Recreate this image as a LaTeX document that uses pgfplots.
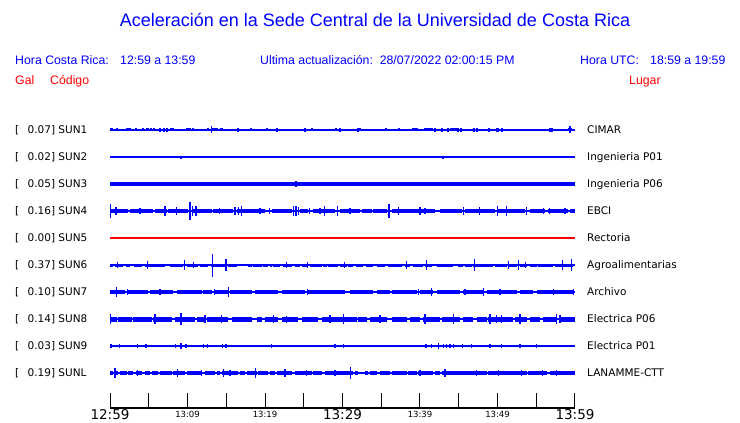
\documentclass[border=0pt]{standalone}
\usepackage{pgfplots}
\pgfplotsset{compat=1.18}
\usepackage{fontspec}
\setmainfont{Liberation Sans}
\newfontfamily\dv{DejaVu Sans}
\definecolor{tblue}{RGB}{0,0,255}
\definecolor{tred}{RGB}{255,0,0}
\pgfplotsset{
  band/.style={draw=none, forget plot,
    error bars/x dir=both, error bars/x explicit, error bars/error mark=none,
    error bars/error bar style={draw=tblue, line width=#1, line cap=butt}},
  spk/.style={draw=none, forget plot,
    error bars/y dir=both, error bars/y explicit, error bars/error mark=none,
    error bars/error bar style={draw=tblue, line width=1.1pt, line cap=butt}},
  base/.style={tblue, line width=#1, forget plot, line cap=butt},
}
\newcommand{\bigtl}[1]{{\fontsize{13.5}{15}\selectfont #1}}
\newcommand{\smtl}[1]{\raisebox{2.2pt}{\fontsize{8.5}{10}\selectfont #1}}
\begin{document}
\begin{tikzpicture}
\useasboundingbox (0,0) rectangle (740pt,423pt);
\begin{axis}[at={(0pt,0pt)}, anchor=south west, scale only axis,
  width=740pt, height=423pt, xmin=-14.1935, xmax=81.2903,
  ymin=0, ymax=423, y dir=reverse, hide axis, clip=false]
% ---------- time axis line ----------
\addplot[black, line width=1.3pt, forget plot] coordinates {(0,408) (60,408)};
% ---------- SUN1 ----------
\addplot[base=1.3pt] coordinates {(0,130) (60,130)};
\addplot[band=3pt] coordinates {
 (0.19,130)+-(0.19,0) (0.84,130)+-(0.07,0) (2.39,130)+-(0.32,0) (3.35,130)+-(0.1,0)
 (4.26,130)+-(0.1,0) (4.84,130)+-(0.19,0) (5.29,130)+-(0.13,0) (5.68,130)+-(0.13,0)
 (8.0,130)+-(0.26,0) (10.13,130)+-(0.32,0) (10.71,130)+-(0.13,0) (12.65,130)+-(0.13,0)
 (13.48,130)+-(0.45,0) (14.39,130)+-(0.2,0) (35.61,130)+-(0.13,0) (37.29,130)+-(0.13,0)
 (39.35,130)+-(0.39,0) (41.1,130)+-(0.58,0) (44.32,130)+-(0.45,0) (59.35,130)+-(0.26,0)};
\addplot[spk] coordinates {
 (6.45,130)+-(0,2) (6.97,130)+-(0,2) (7.35,130)+-(0,2) (13.1,130)+-(0,3.5)
 (16.52,130)+-(0,2) (18.19,130)+-(0,1.5) (20.26,130)+-(0,1.5) (21.55,130)+-(0,2)
 (25.16,130)+-(0,2) (26.06,130)+-(0,1.5) (29.16,130)+-(0,1.5) (29.68,130)+-(0,2)
 (32.0,130)+-(0,2) (32.26,130)+-(0,1.5) (41.94,130)+-(0,2) (42.84,130)+-(0,2)
 (43.61,130)+-(0,2) (44.9,130)+-(0,2) (45.29,130)+-(0,2) (46.97,130)+-(0,2)
 (47.35,130)+-(0,2) (48.9,130)+-(0,2) (49.94,130)+-(0,2) (50.06,130)+-(0,2)
 (50.58,130)+-(0,2) (56.77,130)+-(0,2) (57.03,130)+-(0,2) (59.35,130)+-(0,3.5)};
% ---------- SUN2 ----------
\addplot[base=1.3pt] coordinates {(0,157) (60,157)};
\addplot[spk] coordinates {(9.16,157.8)+-(0,1.3) (40.9,157)+-(0,1) (42.97,157.5)+-(0,1.5)};
% ---------- SUN3 ----------
\addplot[base=4.5pt] coordinates {(0,184) (60,184)};
\addplot[spk] coordinates {(24.0,184)+-(0,2.8)};
% ---------- SUN4 ----------
\addplot[base=1.3pt] coordinates {(0,211) (60,211)};
\addplot[band=4pt] coordinates {
 (1.18,211)+-(1.18,0) (4.09,211)+-(1.51,0) (6.56,211)+-(0.75,0) (8.82,211)+-(1.29,0)
 (11.94,211)+-(1.18,0) (14.62,211)+-(1.29,0) (18.17,211)+-(1.83,0) (22.15,211)+-(1.29,0)
 (25.05,211)+-(0.54,0) (27.63,211)+-(1.40,0) (30.97,211)+-(1.29,0) (33.12,211)+-(0.65,0)
 (34.84,211)+-(0.86,0) (39.14,211)+-(2.80,0) (43.98,211)+-(1.40,0) (47.74,211)+-(1.94,0)
 (51.83,211)+-(1.72,0) (55.16,211)+-(0.97,0) (57.85,211)+-(1.29,0) (59.68,211)+-(0.32,0)};
\addplot[spk] coordinates {
 (0.05,211)+-(0,7) (0.77,211)+-(0,4) (3.87,211)+-(0,3) (7.10,211)+-(0,5) (8.60,211)+-(0,4)
 (10.32,211)+-(0,9) (10.62,211)+-(0,5) (11.10,211)+-(0,5) (14.11,211)+-(0,3) (16.13,211)+-(0,4)
 (16.56,211)+-(0,4) (16.99,211)+-(0,5) (19.35,211)+-(0,3) (20.56,211)+-(0,3) (23.66,211)+-(0,5)
 (24.0,211)+-(0,5) (24.30,211)+-(0,4) (25.72,211)+-(0,3) (27.10,211)+-(0,3) (27.66,211)+-(0,5)
 (29.38,211)+-(0,5) (30.97,211)+-(0,3) (36.0,211)+-(0,7) (37.20,211)+-(0,4) (40.0,211)+-(0,4)
 (40.65,211)+-(0,3) (45.59,211)+-(0,4) (47.66,211)+-(0,4) (49.98,211)+-(0,5) (51.18,211)+-(0,5)
 (53.77,211)+-(0,4) (55.91,211)+-(0,3) (56.69,211)+-(0,3) (58.71,211)+-(0,3)};
% ---------- SUN5 ----------
\addplot[tred, line width=1.1pt, forget plot] coordinates {(0,238) (60,238)};
% ---------- SUN6 ----------
\addplot[base=1.3pt] coordinates {(0,265) (60,265)};
\addplot[band=3pt] coordinates {
 (0.21,265)+-(0.21,0) (1.18,265)+-(0.54,0) (2.30,265)+-(0.28,0) (3.65,265)+-(0.52,0)
 (5.81,265)+-(1.29,0) (8.62,265)+-(0.84,0) (10.22,265)+-(0.32,0) (11.01,265)+-(0.39,0)
 (12.15,265)+-(0.54,0) (13.94,265)+-(0.90,0) (15.81,265)+-(0.54,0) (18.06,265)+-(0.22,0)
 (19.03,265)+-(0.54,0) (20.10,265)+-(0.32,0) (20.75,265)+-(0.11,0) (21.50,265)+-(0.43,0)
 (22.90,265)+-(0.54,0) (24.19,265)+-(0.32,0) (25.16,265)+-(0.43,0) (26.56,265)+-(0.75,0)
 (27.74,265)+-(0.22,0) (28.77,265)+-(0.69,0) (30.10,265)+-(0.43,0) (31.07,265)+-(0.32,0)
 (32.21,265)+-(0.47,0) (33.47,265)+-(0.43,0) (34.95,265)+-(0.54,0) (36.77,265)+-(0.86,0)
 (38.39,265)+-(0.32,0) (39.78,265)+-(0.65,0) (41.08,265)+-(0.43,0) (43.23,265)+-(1.08,0)
 (45.27,265)+-(0.32,0) (46.24,265)+-(0.43,0) (48.17,265)+-(1.29,0) (50.44,265)+-(0.75,0)
 (51.94,265)+-(0.54,0) (53.34,265)+-(0.43,0) (54.63,265)+-(0.43,0) (56.24,265)+-(0.97,0)
 (58.60,265)+-(1.18,0)};
\addplot[spk] coordinates {
 (0.99,265)+-(0,3) (4.81,265)+-(0,4) (9.59,265)+-(0,5) (10.75,265)+-(0,3) (13.20,265)+-(0,11.5)
 (14.97,265)+-(0,6) (22.80,265)+-(0,3) (25.46,265)+-(0,3) (30.23,265)+-(0,3) (38.28,265)+-(0,4)
 (40.86,265)+-(0,5) (47.01,265)+-(0,6) (51.39,265)+-(0,4) (52.68,265)+-(0,5) (53.64,265)+-(0,3)
 (58.41,265)+-(0,5) (59.57,265)+-(0,6)};
% ---------- SUN7 ----------
\addplot[base=1.3pt] coordinates {(0,292) (60,292)};
\addplot[band=4pt] coordinates {
 (0.97,292)+-(0.97,0) (3.55,292)+-(1.40,0) (6.67,292)+-(1.51,0) (10.22,292)+-(1.61,0)
 (12.58,292)+-(0.54,0) (14.41,292)+-(0.86,0) (16.88,292)+-(1.40,0) (20.22,292)+-(1.51,0)
 (23.66,292)+-(1.51,0) (27.96,292)+-(2.37,0) (32.47,292)+-(1.51,0) (35.27,292)+-(0.86,0)
 (37.96,292)+-(1.61,0) (40.86,292)+-(0.86,0) (43.66,292)+-(1.51,0) (46.88,292)+-(1.29,0)
 (50.54,292)+-(1.94,0) (53.76,292)+-(0.86,0) (57.42,292)+-(2.36,0)};
\addplot[spk] coordinates {
 (0.86,292)+-(0,5) (2.24,292)+-(0,3) (6.45,292)+-(0,3) (13.46,292)+-(0,3) (15.27,292)+-(0,5)
 (25.46,292)+-(0,3) (39.78,292)+-(0,3) (41.51,292)+-(0,4) (45.81,292)+-(0,3) (48.17,292)+-(0,4)
 (50.32,292)+-(0,3) (57.20,292)+-(0,3) (59.78,292)+-(0,3)};
% ---------- SUN8 ----------
\addplot[base=2.5pt] coordinates {(0,319) (60,319)};
\addplot[band=5pt] coordinates {
 (0.43,319)+-(0.43,0) (1.94,319)+-(0.86,0) (4.19,319)+-(1.18,0) (6.77,319)+-(1.18,0)
 (9.68,319)+-(1.29,0) (11.72,319)+-(0.54,0) (13.87,319)+-(1.40,0) (16.99,319)+-(1.29,0)
 (19.25,319)+-(0.32,0) (20.86,319)+-(0.86,0) (23.23,319)+-(1.08,0) (25.81,319)+-(1.08,0)
 (28.82,319)+-(1.51,0) (30.75,319)+-(1.08,0) (32.58,319)+-(0.54,0) (34.62,319)+-(1.08,0)
 (37.31,319)+-(0.97,0) (39.35,319)+-(0.65,0) (41.51,319)+-(1.08,0) (43.98,319)+-(1.18,0)
 (46.24,319)+-(0.65,0) (47.96,319)+-(0.65,0) (50.43,319)+-(1.61,0) (53.01,319)+-(0.75,0)
 (54.84,319)+-(0.65,0) (56.77,319)+-(0.86,0) (59.03,319)+-(0.97,0)};
\addplot[spk] coordinates {
 (0.05,319)+-(0,5) (5.81,319)+-(0,5) (9.16,319)+-(0,6) (12.26,319)+-(0,4) (14.41,319)+-(0,4)
 (21.08,319)+-(0,4) (22.80,319)+-(0,3.5) (28.39,319)+-(0,4) (30.11,319)+-(0,5) (34.84,319)+-(0,4)
 (40.65,319)+-(0,5) (44.30,319)+-(0,5) (49.03,319)+-(0,5) (49.90,319)+-(0,4) (50.54,319)+-(0,4)
 (52.90,319)+-(0,5) (57.64,319)+-(0,5) (58.06,319)+-(0,4)};
% ---------- SUN9 ----------
\addplot[base=1.3pt] coordinates {(0,346) (60,346)};
\addplot[spk] coordinates {
 (0.13,346)+-(0,2) (1.20,346)+-(0,2) (3.53,346)+-(0,2) (4.65,346)+-(0,2) (8.47,346)+-(0,2)
 (9.16,346)+-(0,3) (9.81,346)+-(0,2) (12.04,346)+-(0,2) (12.56,346)+-(0,2) (14.50,346)+-(0,2)
 (14.97,346)+-(0,2) (20.86,346)+-(0,2) (29.03,346)+-(0,2) (30.11,346)+-(0,2) (40.77,346)+-(0,2)
 (41.51,346)+-(0,2) (42.37,346)+-(0,3) (43.01,346)+-(0,2) (43.44,346)+-(0,2) (43.87,346)+-(0,2)
 (44.30,346)+-(0,2) (45.51,346)+-(0,2) (46.67,346)+-(0,2) (49.03,346)+-(0,2) (50.54,346)+-(0,2)
 (52.90,346)+-(0,2) (55.06,346)+-(0,2)};
% ---------- SUNL ----------
\addplot[base=1.3pt] coordinates {(0,373) (60,373)};
\addplot[band=3.3pt] coordinates {
 (0.21,373)+-(0.21,0) (0.86,373)+-(0.22,0) (1.72,373)+-(0.43,0) (2.69,373)+-(0.32,0)
 (3.70,373)+-(0.39,0) (4.84,373)+-(0.32,0) (5.81,373)+-(0.43,0) (7.20,373)+-(0.75,0)
 (8.92,373)+-(0.75,0) (10.86,373)+-(0.97,0) (12.90,373)+-(0.65,0) (13.98,373)+-(0.22,0)
 (15.48,373)+-(1.08,0) (17.10,373)+-(0.32,0) (18.28,373)+-(0.65,0) (19.78,373)+-(0.65,0)
 (20.97,373)+-(0.32,0) (22.48,373)+-(0.97,0) (24.95,373)+-(1.08,0) (26.77,373)+-(0.54,0)
 (29.03,373)+-(1.29,0) (30.54,373)+-(0.86,0) (31.83,373)+-(0.22,0) (33.12,373)+-(0.22,0)
 (33.98,373)+-(0.43,0) (35.48,373)+-(0.65,0) (37.31,373)+-(0.97,0) (39.03,373)+-(0.54,0)
 (40.75,373)+-(0.97,0) (42.26,373)+-(0.32,0) (45.70,373)+-(2.90,0) (51.29,373)+-(2.47,0)
 (55.16,373)+-(1.18,0) (58.39,373)+-(1.61,0)};
\addplot[spk] coordinates {
 (0.65,373)+-(0,5) (3.57,373)+-(0,3) (8.73,373)+-(0,4) (11.83,373)+-(0,3) (14.62,373)+-(0,4)
 (15.48,373)+-(0,3) (18.80,373)+-(0,5) (22.58,373)+-(0,4) (25.38,373)+-(0,3) (29.03,373)+-(0,3)
 (31.05,373)+-(0,6) (40.0,373)+-(0,3) (43.23,373)+-(0,4) (47.31,373)+-(0,3) (50.11,373)+-(0,3)
 (53.12,373)+-(0,3) (55.83,373)+-(0,3) (57.64,373)+-(0,3)};
\end{axis}
% ---------- time axis ticks and labels ----------
\begin{axis}[at={(110pt,15pt)}, anchor=south west, scale only axis,
  width=465pt, height=20pt, xmin=0, xmax=60, ymin=0, ymax=1,
  axis x line=bottom, axis y line=none,
  axis line style={-, black, line width=1.2pt},
  xtick={0,5,...,60},
  xticklabels={\bigtl{12:59},{},\smtl{13:09},{},\smtl{13:19},{},\bigtl{13:29},{},
    \smtl{13:39},{},\smtl{13:49},{},\bigtl{13:59}},
  tick align=inside, major tick length=15pt,
  tick style={black, line width=1pt},
  xticklabel style={font=\dv, anchor=base, yshift=-12pt, inner sep=0pt, text depth=0pt},
  clip=false]
\addplot[draw=none] coordinates {(0,0) (60,0)};
\end{axis}
% ---------- texts ----------
\node[anchor=base, text=tblue, font=\fontsize{18}{20}\selectfont, inner sep=0pt] at (375pt,396.5pt) {Aceleración en la Sede Central de la Universidad de Costa Rica};
\begin{scope}[every node/.style={anchor=base west, inner sep=0pt, font=\fontsize{12.3}{14}\selectfont}]
\node[text=tblue] at (15pt,358.5pt) {Hora Costa Rica:};
\node[text=tblue] at (120pt,358.5pt) {12:59 a 13:59};
\node[text=tblue] at (260pt,358.5pt) {Ultima actualización:\ \ 28/07/2022 02:00:15 PM};
\node[text=tblue] at (580pt,358.5pt) {Hora UTC:};
\node[text=tblue] at (650pt,358.5pt) {18:59 a 19:59};
\node[text=tred] at (15pt,338.5pt) {Gal};
\node[text=tred] at (50pt,338.5pt) {Código};
\node[text=tred] at (629pt,338.5pt) {Lugar};
\end{scope}
\begin{scope}[every node/.style={anchor=base west, inner sep=0pt, font=\dv\fontsize{10.5}{12}\selectfont}]
\foreach \yy/\val/\code/\lug in {289/0.07/SUN1/CIMAR, 262/0.02/SUN2/Ingenieria P01,
  235/0.05/SUN3/Ingenieria P06, 208/0.16/SUN4/EBCI, 181/0.00/SUN5/Rectoria,
  154/0.37/SUN6/Agroalimentarias, 127/0.10/SUN7/Archivo, 100/0.14/SUN8/Electrica P06,
  73/0.03/SUN9/Electrica P01, 46/0.19/SUNL/LANAMME-CTT} {
  \node at (15pt,\yy pt) {[};
  \node at (27.5pt,\yy pt) {\val] \code};
  \node at (587pt,\yy pt) {\lug};
}
\end{scope}
\end{tikzpicture}
\end{document}
